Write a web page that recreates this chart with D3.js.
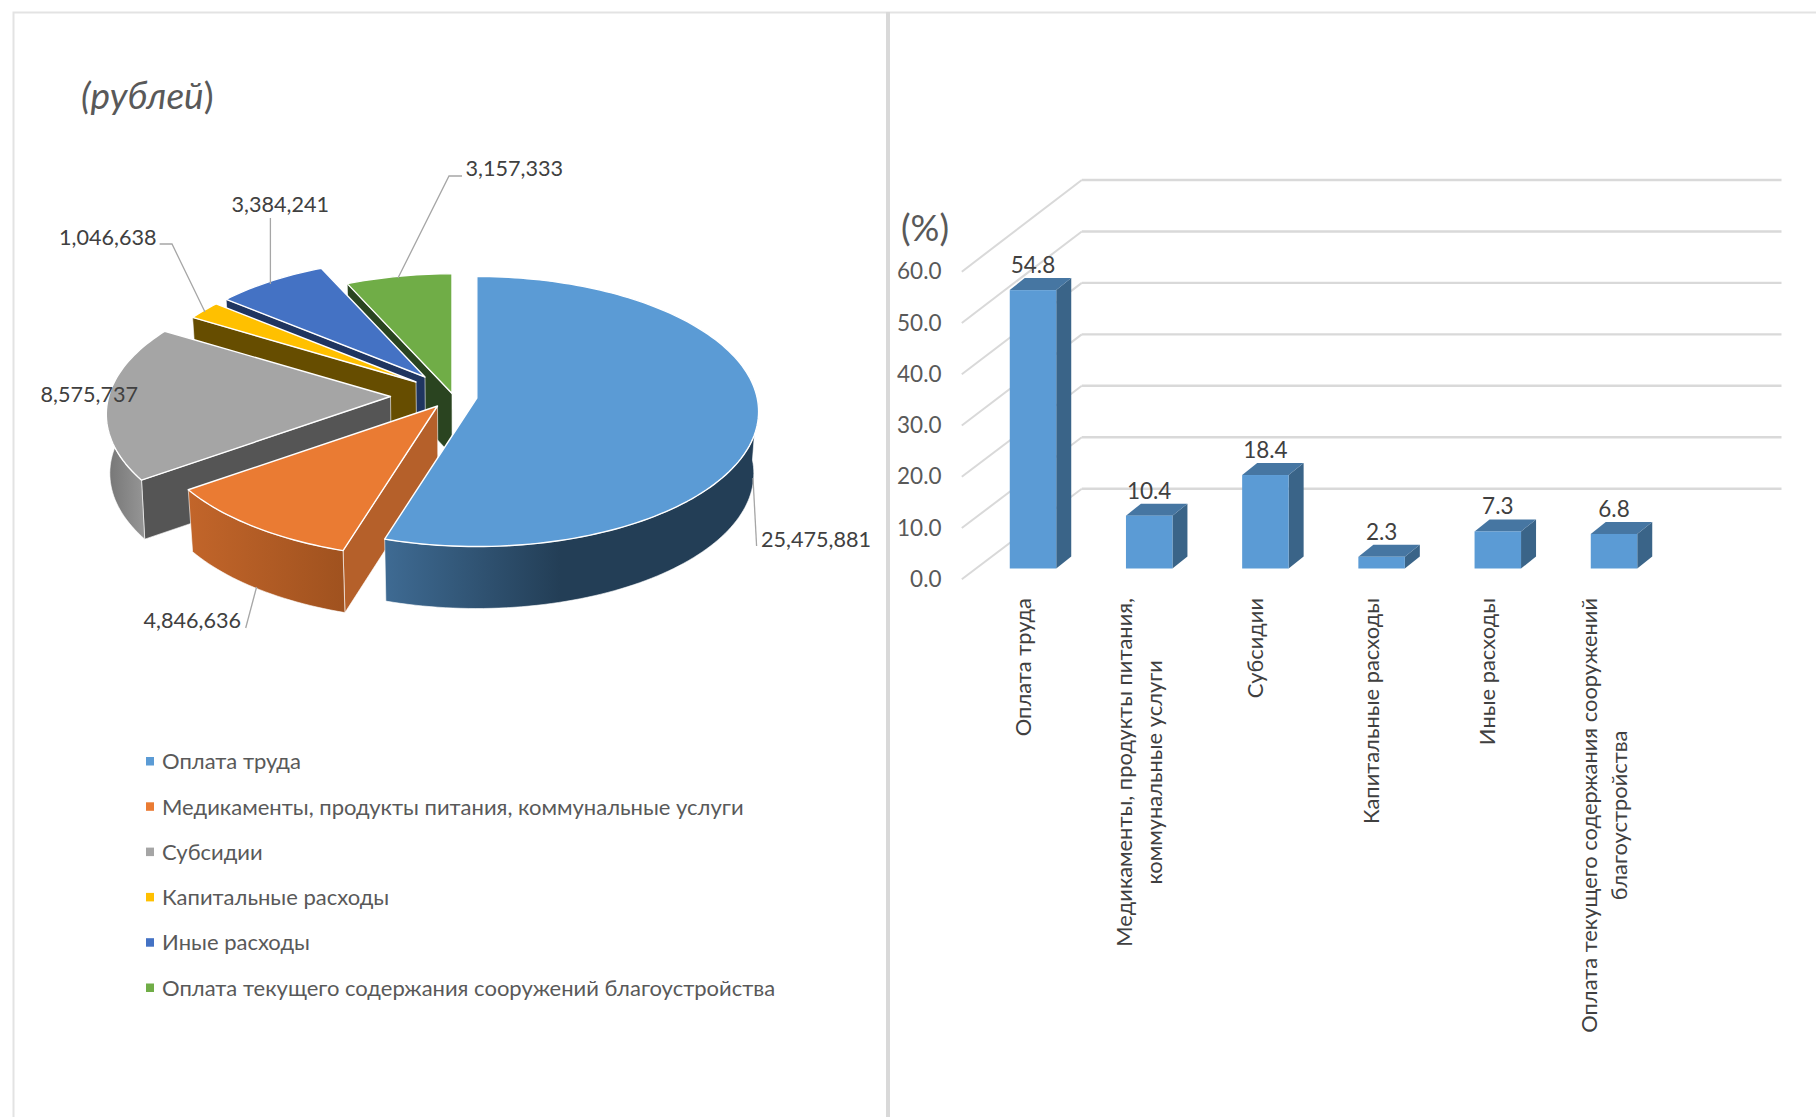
<!DOCTYPE html>
<html><head><meta charset="utf-8">
<script src="https://cdn.jsdelivr.net/npm/d3@7/dist/d3.min.js"></script>
<style>html,body{margin:0;padding:0;background:#fff}svg{display:block}text{font-family:Lato,"Open Sans","Noto Sans",sans-serif}</style>
</head><body><svg id="c" width="1816" height="1117"></svg>
<script>
const categories=["Оплата труда","Медикаменты, продукты питания, коммунальные услуги","Субсидии","Капитальные расходы","Иные расходы","Оплата текущего содержания сооружений благоустройства"];
const rubles=[25475881,4846636,8575737,1046638,3384241,3157333];
const percents=[54.8,10.4,18.4,2.3,7.3,6.8];
const yTicks=[0,10,20,30,40,50,60];
const wrappedLabels=[["Оплата труда"],["Медикаменты, продукты питания,","коммунальные услуги"],["Субсидии"],["Капитальные расходы"],["Иные расходы"],["Оплата текущего содержания сооружений","благоустройства"]];
const colors=["#5b9bd5","#ea7b33","#a5a5a5","#ffc000","#4472c4","#70ad47"];
const cutColors=["#233e56","#b5602a","#555555","#664d00","#1f3560","#2a4420"];
const wallFrom=["#3e6a92","#c2652a","#939393",null,null,null];
const wallTo=["#233e56","#a0521f","#757575",null,null,null];
// explosion of each slice: where its point sits on the page, its radius factor, perspective and extrusion
const apexX=[476.8,437.5,390.5,416,425,452], apexY=[398,406,396.5,382,377,393.5];
const sliceR=[1.005,1.03,1.01,.985,.98,.99], slicePersp=[.1,.1,.13,.1,.1,.1];
const sliceDepth=[62,62,59,62,62,62], sliceShrink=[.984,.984,.99,.984,.984,.984];
// pie label layout
const labelX=[761,143.6,40.5,59,231.6,465.5], labelY=[539,620,394,237,204,168];
const leaders=[[[756.6,546],[753,478]],[[245.7,628],[256.6,587]],[],[[159.6,244],[172,244],[205,312]],[[270.4,218],[270.4,284]],[[462,176],[449,176],[398,278]]];

const svg=d3.select("#c");
const PF=21.6, LF=22, AF=22.5, RF=21.9;
const defs=svg.append("defs");

// frame
svg.append("path").attr("d","M13.5,1117V12.5H1816").attr("fill","none").attr("stroke","#e3e3e3").attr("stroke-width",2);
svg.append("line").attr("x1",888).attr("x2",888).attr("y1",12).attr("y2",1117).attr("stroke","#d9d9d9").attr("stroke-width",4);

// ---------- 3D pie ----------
const rx=279, ry=133, vx=460;
const arcs=d3.pie().value(d=>d).sort(null)(rubles);
const rim=(i,a)=>{const u=Math.sin(a),v=Math.cos(a),s=sliceR[i]/(1+slicePersp[i]*v);return [apexX[i]+rx*u*s,apexY[i]-ry*v*s];};
const low=(p,i)=>[vx+(p[0]-vx)*sliceShrink[i],p[1]+sliceDepth[i]];
const arcPts=(i,a0,a1)=>{const n=Math.max(8,Math.ceil(Math.abs(a1-a0)*40));return d3.range(n+1).map(k=>rim(i,a0+(a1-a0)*k/n));};
const line=d3.line();
const closed=pts=>line(pts)+"Z";
const pie=svg.append("g");
const PI=Math.PI;
[5,4,3,2,1,0].forEach(i=>{
  const d=arcs[i], g=pie.append("g");
  const ap=[apexX[i],apexY[i]];
  if(i>0){
    const p=rim(i,d.startAngle);
    g.append("path").attr("d",closed([p,ap,low(ap,i),low(p,i)])).attr("fill",cutColors[i]).attr("stroke","#fff").attr("stroke-width",.6);
  }
  if(wallFrom[i]){
    const a0=Math.max(d.startAngle,i==0?PI/2:d.startAngle), a1=i==2?Math.min(d.endAngle,PI*1.6):d.endAngle;
    const top=arcPts(i,a0,a1), bot=top.map(p=>low(p,i)).reverse();
    const xs=top.map(p=>p[0]);
    const id="w"+i;
    const lg=defs.append("linearGradient").attr("id",id).attr("gradientUnits","userSpaceOnUse").attr("y1",0).attr("y2",0);
    if(i==0){lg.attr("x1",388).attr("x2",560);}
    else if(i==1){lg.attr("x1",d3.min(xs)).attr("x2",d3.max(xs));}
    else {lg.attr("x1",d3.max(xs)).attr("x2",d3.min(xs));}
    lg.append("stop").attr("offset",0).attr("stop-color",wallFrom[i]);
    lg.append("stop").attr("offset",1).attr("stop-color",wallTo[i]);
    g.append("path").attr("d",closed(top.concat(bot))).attr("fill",`url(#${id})`).attr("stroke","#fff").attr("stroke-width",.6);
  }
  g.append("path").attr("d",closed([ap].concat(arcPts(i,d.startAngle,d.endAngle))))
    .attr("fill",colors[i]).attr("stroke","#fff").attr("stroke-width",1.4).attr("stroke-linejoin","round");
});
leaders.forEach(l=>{ if(l.length) svg.append("path").attr("d",line(l)).attr("fill","none").attr("stroke","#a6a6a6").attr("stroke-width",1.3);});
const fmt=d3.format(",");
rubles.forEach((v,i)=>svg.append("text").attr("x",labelX[i]).attr("y",labelY[i]).attr("dy",".35em").attr("font-size",PF).attr("fill","#404040").text(fmt(v)));

// title texts
const t=svg.append("text").attr("x",81).attr("y",96).attr("dy",".35em").attr("font-size",37).attr("fill","#595959");
t.append("tspan").attr("font-style","italic").text("(рублей");
t.append("tspan").text(")");
svg.append("text").attr("x",901).attr("y",228).attr("dy",".35em").attr("font-size",36).attr("fill","#595959").text("(%)");

// legend
const legendY=d3.scalePoint().domain(categories).range([761.5,988]);
const lg=svg.append("g").selectAll("g").data(categories).join("g").attr("transform",d=>`translate(146,${legendY(d)})`);
lg.append("rect").attr("x",0).attr("y",-4.5).attr("width",8).attr("height",8.5).attr("fill",(d,i)=>colors[i]);
lg.append("text").attr("x",16).attr("dy",".35em").attr("font-size",LF).attr("fill","#595959").text(d=>d);

// ---------- 3D bars ----------
const backX=1081.8, frontX=961.8, rightX=1781.5;
const yBack=d3.scaleLinear().domain([0,60]).range([488.7,180]);
const yFront=d3.scaleLinear().domain([0,60]).range([579.3,271.7]);
const yBar=d3.scaleLinear().domain([0,60]).range([568.5,263.7]);
const x=d3.scaleBand().domain(categories).range([974.9,1672.1]).paddingInner(.6).paddingOuter(.3);
const grid=svg.append("g").attr("fill","none").attr("stroke","#d9d9d9");
yTicks.forEach(v=>{
  grid.append("line").attr("x1",backX).attr("x2",rightX).attr("y1",yBack(v)).attr("y2",yBack(v)).attr("stroke-width",2.4);
  grid.append("line").attr("x1",frontX).attr("x2",backX).attr("y1",yFront(v)).attr("y2",yBack(v)).attr("stroke-width",2);
});
const yAxis=svg.append("g").attr("transform",`translate(941.5,0)`).call(d3.axisLeft(yFront).tickValues(yTicks).tickSize(0).tickPadding(0).tickFormat(d3.format(".1f")));
yAxis.select(".domain").remove();
yAxis.selectAll("text").attr("font-size",AF).attr("fill","#595959").style("font-family",'Lato,"Open Sans",sans-serif');
const dx=15, dy=12;
const bars=svg.append("g").selectAll("g").data(categories).join("g");
bars.each(function(c,i){
  const g=d3.select(this), l=x(c), w=x.bandwidth(), t=yBar(percents[i]), b=yBar(0);
  g.append("path").attr("d",closed([[l+w,t],[l+w+dx,t-dy],[l+w+dx,b-dy],[l+w,b]])).attr("fill","#3a6488");
  g.append("path").attr("d",closed([[l,t],[l+dx,t-dy],[l+w+dx,t-dy],[l+w,t]])).attr("fill","#4676a2");
  g.append("rect").attr("x",l).attr("y",t).attr("width",w).attr("height",b-t).attr("fill","#5b9bd5");
  g.append("text").attr("x",l+w/2).attr("y",t-25).attr("dy",".35em").attr("text-anchor","middle").attr("font-size",AF).attr("fill","#404040").text(d3.format(".1f")(percents[i]));
  const lines=wrappedLabels[i];
  const cx=l+w/2-10, top=598, lens=[], nodes=[];
  lines.forEach((s,k)=>{
    const tx=g.append("text").attr("font-size",RF).attr("fill","#404040").attr("dy",".35em").attr("text-anchor","middle").text(s);
    lens.push(tx.node().getComputedTextLength()); nodes.push(tx);
  });
  const py=top+d3.max(lens)/2;
  nodes.forEach((tx,k)=>tx.attr("transform",`translate(${cx+(k-(lines.length-1)/2)*30},${py}) rotate(-90)`));
});
</script></body></html>
